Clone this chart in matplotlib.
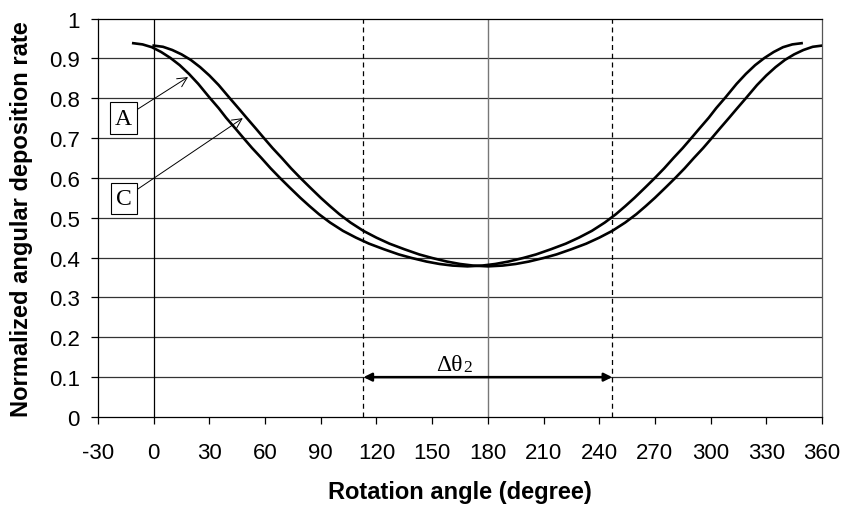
import matplotlib
matplotlib.use("Agg")
import matplotlib.pyplot as plt

# Curve C (right one)
angle_c = [0, 5, 10, 15, 20, 25, 30, 35, 41, 46, 50, 55, 59, 64, 69, 74, 79, 84, 90, 95, 100, 106,
           113, 120, 127, 135, 143, 150, 158, 165, 172, 180,
           188, 195, 202, 210, 217, 225, 233, 240, 247, 254, 260, 265, 270, 276, 281, 286, 291, 296,
           301, 305, 310, 314, 319, 325, 330, 335, 340, 345, 350, 355, 360]
rate_c = [0.932, 0.929, 0.921, 0.910, 0.896, 0.878, 0.857, 0.833, 0.800, 0.773, 0.751, 0.724, 0.702,
          0.675, 0.650, 0.624, 0.600, 0.577, 0.550, 0.529, 0.509, 0.488, 0.467, 0.450, 0.435, 0.421,
          0.408, 0.399, 0.390, 0.384, 0.380, 0.378,
          0.380, 0.384, 0.390, 0.399, 0.408, 0.421, 0.435, 0.450, 0.467, 0.488, 0.509, 0.529, 0.550,
          0.577, 0.600, 0.624, 0.650, 0.675, 0.702, 0.724, 0.751, 0.773, 0.800, 0.833, 0.857, 0.878,
          0.896, 0.910, 0.921, 0.929, 0.932]

# Curve A (left one)
angle_a = [-11, -6, -1, 4, 9, 14, 19, 24, 30, 35, 39, 44, 48, 53, 58, 63, 68, 73, 79, 84, 89, 95,
           102, 109, 116, 124, 132, 139, 147, 154, 161, 169,
           177, 184, 191, 199, 206, 214, 222, 229, 236, 243, 249, 254, 259, 265, 270, 275, 280, 285,
           290, 294, 299, 303, 308, 314, 319, 324, 329, 334, 339, 344, 349]
rate_a = [0.938, 0.935, 0.928, 0.916, 0.901, 0.883, 0.861, 0.836, 0.802, 0.775, 0.751, 0.724, 0.702,
          0.675, 0.650, 0.624, 0.600, 0.577, 0.550, 0.529, 0.509, 0.488, 0.467, 0.450, 0.435, 0.421,
          0.408, 0.399, 0.390, 0.384, 0.380, 0.378,
          0.380, 0.384, 0.390, 0.399, 0.408, 0.421, 0.435, 0.450, 0.467, 0.488, 0.509, 0.529, 0.550,
          0.577, 0.600, 0.624, 0.650, 0.675, 0.702, 0.724, 0.751, 0.775, 0.802, 0.836, 0.861, 0.883,
          0.901, 0.916, 0.928, 0.935, 0.938]

x_ticks = list(range(-30, 361, 30))
y_ticks = [0, 0.1, 0.2, 0.3, 0.4, 0.5, 0.6, 0.7, 0.8, 0.9, 1]
y_tick_labels = ["0", "0.1", "0.2", "0.3", "0.4", "0.5", "0.6", "0.7", "0.8", "0.9", "1"]
dtheta_start, dtheta_end = 113, 247

plt.rcParams['font.family'] = ['Liberation Sans', 'DejaVu Sans']
serif = ['Liberation Serif', 'DejaVu Serif']

fig = plt.figure(figsize=(8.46, 5.06), dpi=100)
ax = fig.add_axes([98 / 846, 1 - 418 / 506, 724 / 846, 398.5 / 506])

# grid and reference lines
for y in y_ticks[1:-1]:
    ax.axhline(y, color='#333333', lw=0.9, zorder=1)
ax.axvline(0, color='black', lw=0.9, zorder=1)
ax.axvline(180, color='#777777', lw=1.0, zorder=1)
ax.axvline(dtheta_start, color='black', lw=0.9, ls=(0, (4, 3)), zorder=1)
ax.axvline(dtheta_end, color='black', lw=0.9, ls=(0, (4, 3)), zorder=1)

ax.plot(angle_a, rate_a, color='black', lw=1.9, zorder=3)
ax.plot(angle_c, rate_c, color='black', lw=1.9, zorder=3)

ax.set_xlim(-30, 360)
ax.set_ylim(0, 1)
ax.set_xticks(x_ticks)
ax.set_xticklabels([str(t) for t in x_ticks])
ax.set_yticks(y_ticks)
ax.set_yticklabels(y_tick_labels)
ax.tick_params(axis='both', direction='out', length=5, width=0.9, colors='black', labelsize=16)
ax.tick_params(axis='x', pad=13)
ax.tick_params(axis='y', pad=8)
for s in ax.spines.values():
    s.set_linewidth(0.9)
ax.spines['right'].set_color('#555555')

ax.set_xlabel("Rotation angle (degree)", fontsize=17, fontweight='bold')
ax.set_ylabel("Normalized angular deposition rate", fontsize=17, fontweight='bold')
ax.xaxis.set_label_coords(0.5, -0.158)
ax.yaxis.set_label_coords(-0.09, 0.5)

# delta theta arrow
ax.annotate("", xy=(dtheta_start, 0.1), xytext=(dtheta_end, 0.1),
            arrowprops=dict(arrowstyle='<|-|>', color='black', lw=1.8,
                            mutation_scale=12, shrinkA=0, shrinkB=0), zorder=4)
ax.text(166.5, 0.106, "\u0394\u03b8", family=serif, fontsize=17, ha='right', va='bottom')
ax.text(166.5, 0.106, "2", family=serif, fontsize=12.5, ha='left', va='bottom')

# labels A and C with arrows
box = dict(boxstyle='square,pad=0.22', fc='white', ec='black', lw=0.8)
ax.annotate("A", xy=(18.5, 0.853), xytext=(-16.2, 0.75), family=serif, fontsize=17,
            ha='center', va='center', bbox=box,
            arrowprops=dict(arrowstyle='->', color='black', lw=0.7, shrinkA=0, shrinkB=0))
ax.annotate("C", xy=(48, 0.75), xytext=(-16.2, 0.548), family=serif, fontsize=17,
            ha='center', va='center', bbox=box,
            arrowprops=dict(arrowstyle='->', color='black', lw=0.7, shrinkA=0, shrinkB=0))

fig.savefig("out.png", dpi=100)
